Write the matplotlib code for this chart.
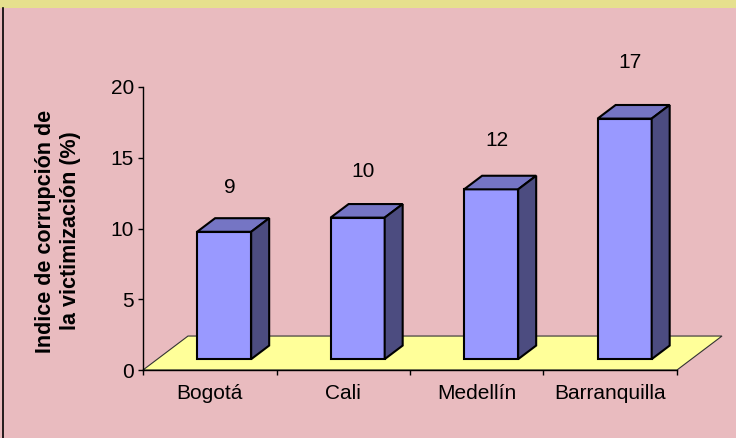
import matplotlib.pyplot as plt
from matplotlib.patches import Polygon, Rectangle
from matplotlib.lines import Line2D

ciudades = ['Bogotá', 'Cali', 'Medellín', 'Barranquilla']
indice = [9, 10, 12, 17]
etiquetas = ['9', '10', '12', '17']
yticks = [0, 5, 10, 15, 20]

plt.rcParams['font.family'] = ['Liberation Sans', 'DejaVu Sans']

fig = plt.figure(figsize=(7.36, 4.38), dpi=100)
fig.patch.set_facecolor('#e9bbbf')

# franja amarilla arriba y borde izquierdo
fig.patches.append(Rectangle((0, 1 - 8 / 438), 1, 8 / 438, transform=fig.transFigure,
                             fc='#e6e08e', ec='none', zorder=0))
fig.lines.append(Line2D([3 / 736, 3 / 736], [0, 1 - 8 / 438], transform=fig.transFigure,
                        color='black', lw=1.2))

ax = fig.add_axes([143 / 736, 1 - 370 / 438, 534 / 736, 283 / 438])
ax.set_facecolor('none')
ax.set_xlim(0, len(ciudades))
ax.set_ylim(0, 20)

# profundidad del piso (unidades de datos)
dx, dy = 0.337, 2.4
f0, f1 = 0.32, 0.72
w = 0.405
n = len(ciudades)

piso = Polygon([(0, 0), (n, 0), (n + dx, dy), (dx, dy)], closed=True,
               fc='#ffff99', ec='#333333', lw=0.8, clip_on=False, zorder=1)
ax.add_patch(piso)

bdx = (f1 - f0) * dx
bdy = (f1 - f0) * dy
for i, v in enumerate(indice):
    x0 = i + 0.5 - w / 2 + f0 * dx
    y0 = f0 * dy
    frente = [(x0, y0), (x0 + w, y0), (x0 + w, y0 + v), (x0, y0 + v)]
    tapa = [(x0, y0 + v), (x0 + w, y0 + v), (x0 + w + bdx, y0 + v + bdy), (x0 + bdx, y0 + v + bdy)]
    lado = [(x0 + w, y0), (x0 + w + bdx, y0 + bdy), (x0 + w + bdx, y0 + v + bdy), (x0 + w, y0 + v)]
    for pts, c in [(frente, '#9999ff'), (tapa, '#7575c4'), (lado, '#4c4c80')]:
        ax.add_patch(Polygon(pts, closed=True, fc=c, ec='black', lw=1.5,
                             joinstyle='miter', clip_on=False, zorder=3))
    ax.text(i + 0.5 + 0.15, v * 1.1 + 3, etiquetas[i], ha='center', va='center',
            fontsize=15, clip_on=False)

for s in ['top', 'right']:
    ax.spines[s].set_visible(False)
for s in ['left', 'bottom']:
    ax.spines[s].set_linewidth(1)
    ax.spines[s].set_zorder(2)

ax.set_yticks(yticks)
ax.tick_params(axis='y', length=3.6, width=1, pad=3, labelsize=15)
ax.set_xticks(range(n + 1))
ax.set_xticklabels([])
ax.tick_params(axis='x', which='major', length=3.6, width=1)
ax.set_xticks([i + 0.5 for i in range(n)], minor=True)
ax.set_xticklabels(ciudades, minor=True)
ax.tick_params(axis='x', which='minor', length=0, pad=10, labelsize=15)

fig.text(58 / 736, 1 - 231 / 438, 'Indice de corrupción de\nla victimización (%)',
         rotation=90, ha='center', va='center', fontsize=15.5, fontweight='bold',
         multialignment='center', linespacing=1.3)

fig.savefig('out.png', dpi=100, facecolor=fig.get_facecolor())
